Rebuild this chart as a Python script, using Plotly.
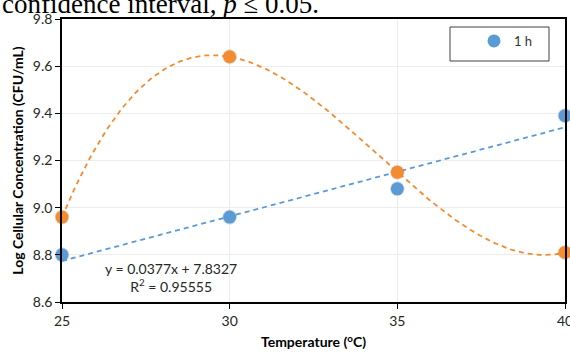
import numpy as np
import plotly.graph_objects as go

temps = [25, 30, 35, 40]
blue_1h = [8.80, 8.96, 9.08, 9.39]
orange_vals = [8.96, 9.64, 9.15, 8.81]
x_ticks = [25, 30, 35, 40]
y_ticks = [8.6, 8.8, 9.0, 9.2, 9.4, 9.6, 9.8]

BLUE = "#5B9BD5"
ORANGE = "#F48C2F"

fig = go.Figure()

# orange cubic trendline (Excel-like polynomial, order 3)
xs = np.linspace(min(temps), max(temps), 200)
oc = np.polyfit(temps, orange_vals, 3)
fig.add_trace(go.Scatter(x=xs, y=np.polyval(oc, xs), mode="lines",
                         line=dict(color=ORANGE, width=1.8, dash="5px,4px"),
                         showlegend=False, hoverinfo="skip", cliponaxis=False))
# blue linear trendline
bc = np.polyfit(temps, blue_1h, 1)
xl = np.array([min(temps), max(temps)])
fig.add_trace(go.Scatter(x=xl, y=np.polyval(bc, xl), mode="lines",
                         line=dict(color=BLUE, width=1.8, dash="5px,4px"),
                         showlegend=False, hoverinfo="skip", cliponaxis=False))

# shadows
fig.add_trace(go.Scatter(x=temps, y=orange_vals, mode="markers",
                         marker=dict(size=15, color="rgba(0,0,0,0.12)"),
                         showlegend=False, hoverinfo="skip", cliponaxis=False))
fig.add_trace(go.Scatter(x=temps, y=blue_1h, mode="markers",
                         marker=dict(size=15, color="rgba(0,0,0,0.12)"),
                         showlegend=False, hoverinfo="skip", cliponaxis=False))

fig.add_trace(go.Scatter(x=temps, y=orange_vals, mode="markers",
                         marker=dict(size=13, color=ORANGE),
                         showlegend=False, cliponaxis=False, name="orange"))
fig.add_trace(go.Scatter(x=temps, y=blue_1h, mode="markers",
                         marker=dict(size=13, color=BLUE),
                         name="1 h", cliponaxis=False))

FONT = "Lato"
TXT = "#262626"

fig.update_layout(
    width=570, height=352,
    margin=dict(l=62, r=5, t=19, b=50, autoexpand=False),
    paper_bgcolor="white", plot_bgcolor="white",
    font=dict(family=FONT, size=14, color=TXT),
    showlegend=True,
    legend=dict(x=(474 - 62) / 503, xanchor="left", y=1 - (26 - 19) / 283, yanchor="top",
                bgcolor="rgba(0,0,0,0)", borderwidth=0,
                font=dict(family=FONT, size=13, color="#333333"), itemwidth=30),
    xaxis=dict(range=[25, 40], tickvals=x_ticks, ticktext=[str(t) for t in x_ticks],
               showgrid=True, gridcolor="#EDEDED", gridwidth=1, automargin=False,
               showline=True, linecolor="black", linewidth=1.6, mirror=True,
               ticks="outside", ticklen=5, tickcolor="black", zeroline=False,
               ticklabeloverflow="allow", tickfont=dict(size=14),
               title=dict(text="<b>Temperature (<sup>o</sup>C)</b>", font=dict(family=FONT, size=14, color="black"),
                          standoff=10)),
    yaxis=dict(range=[8.6, 9.8], tickvals=y_ticks, ticktext=[f"{v:.1f}" for v in y_ticks],
               showgrid=True, gridcolor="#EDEDED", gridwidth=1, automargin=False,
               showline=True, linecolor="black", linewidth=1.6, mirror=True,
               ticks="outside", ticklen=5, tickcolor="black", zeroline=False,
               ticklabeloverflow="allow", tickfont=dict(size=14),
               title=dict(text="<b>Log Cellular Concentration (CFU/mL)</b>",
                          font=dict(family=FONT, size=14, color="black"), standoff=6)),
)

# legend box
fig.add_shape(type="rect", xref="paper", yref="paper",
              x0=(450 - 62) / 503, x1=(549 - 62) / 503,
              y0=1 - (61 - 19) / 283, y1=1 - (27 - 19) / 283,
              line=dict(color="#404040", width=1), fillcolor="rgba(0,0,0,0)")

# trendline equation
fig.add_annotation(x=28.25, y=8.705, xref="x", yref="y",
                   text="y = 0.0377x + 7.8327<br>R<sup>2</sup> = 0.95555",
                   showarrow=False, align="center",
                   font=dict(family=FONT, size=14, color=TXT))

# cut-off caption above the chart
fig.add_annotation(x=-62 / 503, xanchor="left", y=1 + 15 / 283, yanchor="middle",
                   xref="paper", yref="paper",
                   text="confidence interval, <i>p</i> ≤ 0.05.",
                   showarrow=False, font=dict(family="Liberation Serif", size=27, color="black"))

fig.write_html("out.html")
